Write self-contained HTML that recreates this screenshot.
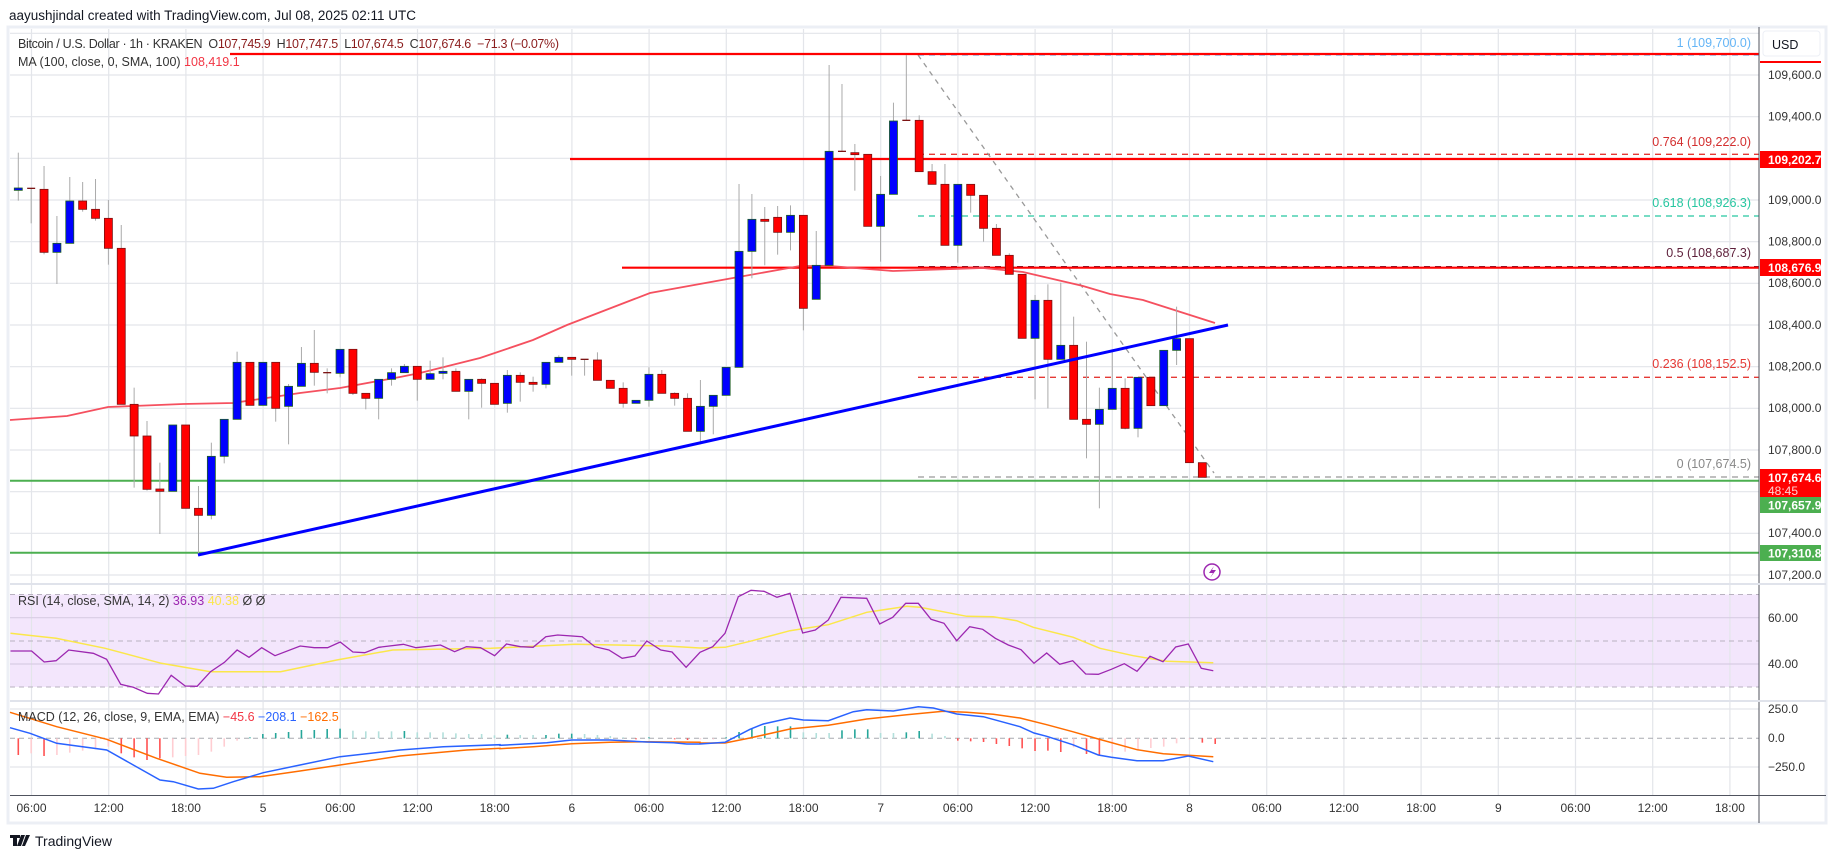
<!DOCTYPE html>
<html><head><meta charset="utf-8">
<style>
html,body{margin:0;padding:0;background:#fff;}
svg{display:block;font-family:"Liberation Sans",sans-serif;}
</style></head>
<body>
<svg id="s" width="1835" height="858" viewBox="0 0 1835 858" xmlns="http://www.w3.org/2000/svg">
<rect x="0" y="0" width="1835" height="858" fill="#fff"/>
<rect x="8" y="27" width="1818" height="796" fill="#fff" stroke="#eceff5" stroke-width="3"/>
<rect x="10" y="594.5" width="1749" height="92.5" fill="#f3e6fc"/>
<g id="grid"></g>
<g id="lines"></g>
<g id="candles"></g>
<g id="ind"></g>
<line x1="1759" y1="27" x2="1759" y2="823" stroke="#50535e" stroke-width="1"/>
<line x1="10" y1="795.5" x2="1826" y2="795.5" stroke="#50535e" stroke-width="1"/>
<line x1="10" y1="584" x2="1826" y2="584" stroke="#e0e3eb" stroke-width="2"/>
<line x1="10" y1="701" x2="1826" y2="701" stroke="#e0e3eb" stroke-width="2"/>

<text x="9" y="20" font-size="13.5" fill="#131722">aayushjindal created with TradingView.com, Jul 08, 2025 02:11 UTC</text>
<text x="18" y="48" font-size="12.5" fill="#333" xml:space="preserve" textLength="541" lengthAdjust="spacing">Bitcoin / U.S. Dollar · 1h · KRAKEN  O<tspan fill="#8b1d1d">107,745.9</tspan>  H<tspan fill="#8b1d1d">107,747.5</tspan>  L<tspan fill="#8b1d1d">107,674.5</tspan>  C<tspan fill="#8b1d1d">107,674.6  −71.3 (−0.07%)</tspan></text>
<text x="18" y="66" font-size="12.5" fill="#333">MA (100, close, 0, SMA, 100) <tspan fill="#f23645">108,419.1</tspan></text>
<text x="18" y="605" font-size="12.5" fill="#333">RSI (14, close, SMA, 14, 2) <tspan fill="#9c27b0">36.93</tspan> <tspan fill="#fbe74a">40.38</tspan> Ø Ø</text>
<text x="18" y="721" font-size="12.5" fill="#333">MACD (12, 26, close, 9, EMA, EMA) <tspan fill="#f23645">−45.6</tspan> <tspan fill="#2962ff">−208.1</tspan> <tspan fill="#ff6d00">−162.5</tspan></text>

<g font-size="12.5" text-anchor="end">
<text x="1751" y="47" fill="#64b5f6">1 (109,700.0)</text>
<text x="1751" y="146" fill="#d32f2f">0.764 (109,222.0)</text>
<text x="1751" y="207" fill="#26c6a0">0.618 (108,926.3)</text>
<text x="1751" y="257" fill="#5d1f3a">0.5 (108,687.3)</text>
<text x="1751" y="368" fill="#e53935">0.236 (108,152.5)</text>
<text x="1751" y="468" fill="#888">0 (107,674.5)</text>
</g>

<rect x="1763" y="31" width="57" height="25" rx="3" fill="#fff" stroke="#eceff5"/>
<text x="1772" y="49" font-size="12.5" fill="#131722">USD</text>
<line x1="1760" y1="62" x2="1821" y2="62" stroke="#ff0000" stroke-width="2"/>
<g font-size="12" fill="#333">
<text x="1768" y="79">109,600.0</text>
<text x="1768" y="120.5">109,400.0</text>
<text x="1768" y="204">109,000.0</text>
<text x="1768" y="245.5">108,800.0</text>
<text x="1768" y="287">108,600.0</text>
<text x="1768" y="329">108,400.0</text>
<text x="1768" y="370.5">108,200.0</text>
<text x="1768" y="412">108,000.0</text>
<text x="1768" y="454">107,800.0</text>
<text x="1768" y="537">107,400.0</text>
<text x="1768" y="579">107,200.0</text>
<text x="1768" y="622">60.00</text>
<text x="1768" y="668">40.00</text>
<text x="1768" y="713">250.0</text>
<text x="1768" y="742">0.0</text>
<text x="1768" y="771">−250.0</text>
</g>
<rect x="1760" y="151" width="61" height="17" fill="#ff0000"/>
<text x="1768" y="164" font-size="12" font-weight="bold" fill="#fff">109,202.7</text>
<rect x="1760" y="259" width="61" height="17" fill="#ff0000"/>
<text x="1768" y="272" font-size="12" font-weight="bold" fill="#fff">108,676.9</text>
<rect x="1760" y="469" width="61" height="28" fill="#ff0000"/>
<text x="1768" y="482" font-size="12" font-weight="bold" fill="#fff">107,674.6</text>
<text x="1768" y="495" font-size="12" fill="#ffd0d0">48:45</text>
<rect x="1760" y="497" width="61" height="16" fill="#4caf50"/>
<text x="1768" y="509.5" font-size="12" font-weight="bold" fill="#fff">107,657.9</text>
<rect x="1760" y="545" width="61" height="16" fill="#4caf50"/>
<text x="1768" y="557.5" font-size="12" font-weight="bold" fill="#fff">107,310.8</text>

<g font-size="12" fill="#333" text-anchor="middle">
<text x="31.5" y="812">06:00</text><text x="108.7" y="812">12:00</text><text x="185.9" y="812">18:00</text><text x="263.1" y="812">5</text>
<text x="340.3" y="812">06:00</text><text x="417.5" y="812">12:00</text><text x="494.7" y="812">18:00</text><text x="571.9" y="812">6</text>
<text x="649.1" y="812">06:00</text><text x="726.3" y="812">12:00</text><text x="803.5" y="812">18:00</text><text x="880.7" y="812">7</text>
<text x="957.9" y="812">06:00</text><text x="1035.1" y="812">12:00</text><text x="1112.3" y="812">18:00</text><text x="1189.5" y="812">8</text>
<text x="1266.7" y="812">06:00</text><text x="1343.9" y="812">12:00</text><text x="1421.1" y="812">18:00</text><text x="1498.3" y="812">9</text>
<text x="1575.5" y="812">06:00</text><text x="1652.7" y="812">12:00</text><text x="1729.9" y="812">18:00</text>
</g>

<circle cx="1212" cy="572" r="8" fill="#fff" stroke="#9c27b0" stroke-width="1.5"/>
<path d="M1214 566 L1209 573 L1213 573 L1210 578 L1216 570 L1212 570 Z" fill="#9c27b0"/>

<path d="M10 835 h10 v3 h-3 v8 h-4 v-8 h-3z M21 835 h4 l-4 11 h-4z M26 835 h4 l-5 11 h-3z" fill="#131722"/>
<text x="35" y="846" font-size="14" fill="#131722">TradingView</text>
</svg>
<script>
(function(){
var NS="http://www.w3.org/2000/svg";
function el(p,t,a){var e=document.createElementNS(NS,t);for(var k in a)e.setAttribute(k,a[k]);document.getElementById(p).appendChild(e);return e;}
for(var k=0;k<23;k++){var x=31.5+77.2*k;el("grid","line",{x1:x,y1:29,x2:x,y2:795,stroke:"#e3e5ea","stroke-width":1.2});}
function py(p){return 75+(109600-p)*0.208333;}
for(var p=107200;p<=109600;p+=200){el("grid","line",{x1:10,y1:py(p),x2:1759,y2:py(p),stroke:"#e3e5ea","stroke-width":1.2});}
el("grid","line",{x1:10,y1:33.3,x2:1759,y2:33.3,stroke:"#e3e5ea","stroke-width":1.2});
[617.7,664].forEach(function(y){el("grid","line",{x1:10,y1:y,x2:1759,y2:y,stroke:"#d8cce4","stroke-width":1.2});});
[594.5,641,687].forEach(function(y){el("grid","line",{x1:10,y1:y,x2:1759,y2:y,stroke:"#b9b2c0","stroke-width":1,"stroke-dasharray":"5,4"});});
[709,767].forEach(function(y){el("grid","line",{x1:10,y1:y,x2:1759,y2:y,stroke:"#e3e5ea","stroke-width":1.2});});
el("grid","line",{x1:10,y1:738.3,x2:1759,y2:738.3,stroke:"#a8aab0","stroke-width":1,"stroke-dasharray":"5,4"});

[[55,"#64b5f6"],[154.3,"#e53935"],[216,"#26c6a0"],[266.7,"#5d1f3a"],[377.3,"#e53935"],[477,"#999"]].forEach(function(f){
 el("lines","line",{x1:918,y1:f[0],x2:1759,y2:f[0],stroke:f[1],"stroke-width":1.3,"stroke-dasharray":"6,5"});});
el("lines","line",{x1:918,y1:55,x2:1214,y2:473,stroke:"#999","stroke-width":1.3,"stroke-dasharray":"5,5"});
el("lines","line",{x1:230,y1:54,x2:1759,y2:54,stroke:"#ff0000","stroke-width":2.2});
el("lines","line",{x1:570,y1:159,x2:1759,y2:159,stroke:"#ff0000","stroke-width":2.2});
el("lines","line",{x1:622,y1:267.7,x2:1759,y2:267.7,stroke:"#ff0000","stroke-width":2.2});
el("lines","line",{x1:10,y1:480.7,x2:1759,y2:480.7,stroke:"#4caf50","stroke-width":2});
el("lines","line",{x1:10,y1:552.7,x2:1759,y2:552.7,stroke:"#4caf50","stroke-width":2});
var ma=[[10,420],[67,416],[108,407],[183,404],[233,403],[300,393],[340,388],[400,377],[420,373],[480,358],[533,340],[567,325],[650,293],[733,278],[800,266],[830,266],[893,271],[983,268],[1023,272],[1083,286],[1110,294],[1143,300],[1215,323]];
el("lines","polyline",{points:ma.map(function(a){return a.join(",")}).join(" "),fill:"none",stroke:"#f5505f","stroke-width":1.8});

var A=[[181,68,212,174],[175,175,280,175],[178,108,373,367],[367,258,462,340],[340,141,340,213],[213,156,245,238],[238,147,272,265],[265,210,404,355],[355,285,823,823],[823,773,1073,918],[918,873,1082,1078],[1077,998,1212,1084],[1084,885,1084,885],[885,885,1135,1135],[1135,1068,1275,1156],[1156,938,1168,979],[979,868,1000,868],[868,665,868,697],[697,697,826,826],[826,697,826,697],[697,697,875,835],[829,762,943,769],[769,651,769,700],[700,600,767,727],[728,715,790,728],[730,658,742,658],[658,658,795,790],[790,790,838,805],[805,748,868,748],[748,715,767,728],[728,702,728,709],
[709,709,812,748],[748,692,748,731],[730,682,748,724],[724,715,784,784],[784,748,868,748],[748,745,833,760],[760,760,823,823],[820,720,848,736],[736,727,815,757],[757,740,785,763],[763,697,775,697],[697,676,697,682],[682,682,737,688],[688,688,737,690],[690,667,751,751],[751,751,775,775],[775,757,833,820],[820,811,820,811],[811,712,830,733],[733,720,790,790],[790,787,827,805],[805,790,904,904],[904,750,943,829],[829,796,913,796],[796,712,796,712],[712,162,712,364],[364,192,445,268],[268,231,406,274],[262,228,374,307],[307,226,361,256],[256,256,601,535]];
var C=[[805,708,883,778],[778,573,778,676],[676,75,676,334],[334,132,336,336],[338,312,452,344],[343,343,559,559],[559,408,665,463],[463,188,463,243],[241,45,241,241],[241,226,395,395],[395,372,433,433],[433,372,616,616],[616,433,668,433],[433,433,518,466],[466,466,605,565],[565,552,646,646],[646,640,703,703],[703,703,895,895],[895,765,1078,781],[781,733,1105,958],[958,728,958,916],[916,830,1138,1138],[1138,905,1255,1153],[1153,1043,1405,1108],[1108,930,1108,1045],[1045,1015,1168,1165],[1165,1012,1192,1012],[1012,1012,1097,1097],[1097,931,1097,931],[931,800,975,896],[896,896,1268,1268],[1268,1268,1312,1312]];
var data=[];
A.forEach(function(c){data.push(c.map(function(v){return 130+v/3;}));});
C.slice(1).forEach(function(c){data.push(c.map(function(v){return 40+v/3;}));});
data.forEach(function(c,i){
 var x=18.3+12.87*i,o=c[0],h=c[1],l=c[2],cl=c[3];
 el("candles","line",{x1:x,y1:h,x2:x,y2:l,stroke:"#aaa","stroke-width":1});
 var top=Math.min(o,cl),bh=Math.abs(o-cl);
 var up=cl<o;
 if(bh<1.5){el("candles","line",{x1:x-4,y1:top,x2:x+4,y2:top,stroke:(i==70?"#1b5e20":"#7a1010"),"stroke-width":1.3});}
 else el("candles","rect",{x:x-4,y:top,width:8,height:bh,fill:up?"#0000ff":"#ff0000",stroke:up?"#1b5e20":"#7a1010","stroke-width":0.8});
});
el("candles","line",{x1:198,y1:555,x2:1228,y2:325,stroke:"#0000ff","stroke-width":3});

function pts(arr){return arr.map(function(a){return a[0].toFixed(1)+","+a[1].toFixed(1)}).join(" ");}
var r5=[[15,153],[45,153],[63,186],[80,182],[98,150],[133,160],[152,178],[172,253],[190,262],[210,280],[226,282],[244,226],[264,258],[281,259],[300,215],[320,187],[338,150],[355,172],[373,143],[392,167],[428,138],[448,143],[467,143],[485,126],[503,156],[520,158],[540,142],[575,133],[593,143],[628,135],[648,155],[665,140],[685,143],[705,167],[722,132],[742,140],[760,142],[778,110],[795,105],[830,110],[848,140],[868,150],[887,175],[905,168],[922,123],[942,150],[958,156],[978,202]].map(function(a){return [a[0]*0.7015,600+a[1]/3];});
var r9=[[0,205],[38,188],[75,148],[115,38],[153,19],[192,22],[231,40],[270,28],[308,147],[346,138],[385,108],[423,40],[500,43],[539,120],[578,100],[617,58],[655,58],[693,106],[732,118],[770,170],[809,128],[848,136],[886,163],[925,183],[963,197],[1002,238],[1040,207],[1079,241],[1118,230],[1157,270],[1195,271],[1234,256],[1273,239],[1311,262],[1350,217],[1389,233],[1427,189],[1465,180],[1504,253],[1540,260]].map(function(a){return [700+a[0]/3,584+a[1]/3];});
var y5=[[15,100],[80,115],[150,145],[230,190],[300,215],[400,215],[480,180],[560,150],[700,145],[820,133],[950,138]].map(function(a){return [a[0]*0.7015,600+a[1]/3];});
var y9=[[0,192],[75,190],[150,172],[270,140],[385,122],[500,85],[620,67],[660,70],[800,97],[880,98],[950,110],[1000,130],[1120,160],[1200,193],[1300,215],[1400,232],[1540,236]].map(function(a){return [700+a[0]/3,584+a[1]/3];});
el("ind","polyline",{points:pts(y5.concat(y9)),fill:"none",stroke:"#fbe74a","stroke-width":1.5});
el("ind","polyline",{points:pts(r5.concat(r9)),fill:"none",stroke:"#9c27b0","stroke-width":1.3});

var hz10=[165,160,168,165,158,152,148,140,160,172,180,175,172,168,165,155,140,122,112,102,99,96,90,90,87,86,92,94,94,94,93,97,97,97,100,102,102,106,104];
var hc10=["r","p","r","p","p","p","p","p","r","r","r","r","p","p","p","p","p","p","t","t","t","t","t","t","t","t","l","l","l","l","t","l","l","l","l","l","l","l","t"];
var hz11=[105,105,105,101,101,102,105,108,112,118,112,115,118,120,118,118];
var hc11=["l","l","t","t","t","l","l","l","l","r","t","p","r","r","p","p"];
var hz9=[460,444,435,426,427,427,445,447,447,439,436,436,447,447,445,441,449,456,470,472,474,480,486,493,501,500,504,490,510,512,505,503,500,492,488,478,466,476,480];
var hc9=["t","t","t","t","t","t","l","l","l","t","t","t","l","l","t","t","l","l","r","r","r","r","r","r","r","r","r","p","r","r","p","p","p","p","p","p","p","r","r"];
var col={r:"#ff5252",p:"#ffcdd2",t:"#26a69a",l:"#b2dfdb"};
var bars=[];
hz10.forEach(function(v,i){bars.push([700+v/3,hc10[i]]);});
hz11.forEach(function(v,i){bars.push([700+v/3,hc11[i]]);});
hz9.forEach(function(v,i){bars.push([584+v/3,hc9[i]]);});
bars.forEach(function(b,i){var x=18.3+12.87*i;el("ind","line",{x1:x,y1:738.3,x2:x,y2:b[0],stroke:col[b[1]],"stroke-width":1.6});});
var b10=[[30,83],[90,100],[170,130],[320,150],[400,195],[480,240],[520,245],[595,267],[640,265],[700,245],[790,218],[900,195],[1020,170],[1200,150],[1330,140],[1500,134]].map(function(a){return [a[0]/3,700+a[1]/3];});
var o10=[[30,37],[170,80],[320,118],[470,175],[600,220],[680,232],[780,230],[900,213],[1020,195],[1200,168],[1400,150],[1500,145]].map(function(a){return [a[0]/3,700+a[1]/3];});
var b11=[[0,136],[60,133],[140,128],[215,120],[330,120],[440,126],[520,128],[560,132],[600,132]].map(function(a){return [500+a[0]/3,700+a[1]/3];});
var o11=[[0,146],[100,140],[215,131],[330,127],[440,125],[520,126],[600,127]].map(function(a){return [500+a[0]/3,700+a[1]/3];});
var b9=[[0,480],[75,475],[150,436],[190,420],[270,402],[310,408],[385,410],[460,383],[500,377],[580,381],[655,368],[700,372],[770,390],[850,398],[960,428],[1002,447],[1040,457],[1118,482],[1195,513],[1234,520],[1311,530],[1390,530],[1465,516],[1540,533]].map(function(a){return [700+a[0]/3,584+a[1]/3];});
var o9=[[0,477],[75,477],[150,462],[270,435],[385,424],[500,405],[620,392],[730,382],[800,385],[880,391],[960,402],[1040,422],[1118,443],[1195,465],[1311,497],[1390,509],[1540,518]].map(function(a){return [700+a[0]/3,584+a[1]/3];});
el("ind","polyline",{points:pts(o10.concat(o11,o9)),fill:"none",stroke:"#ff6d00","stroke-width":1.5});
el("ind","polyline",{points:pts(b10.concat(b11,b9)),fill:"none",stroke:"#2962ff","stroke-width":1.5});
})();
</script>
</body></html>
